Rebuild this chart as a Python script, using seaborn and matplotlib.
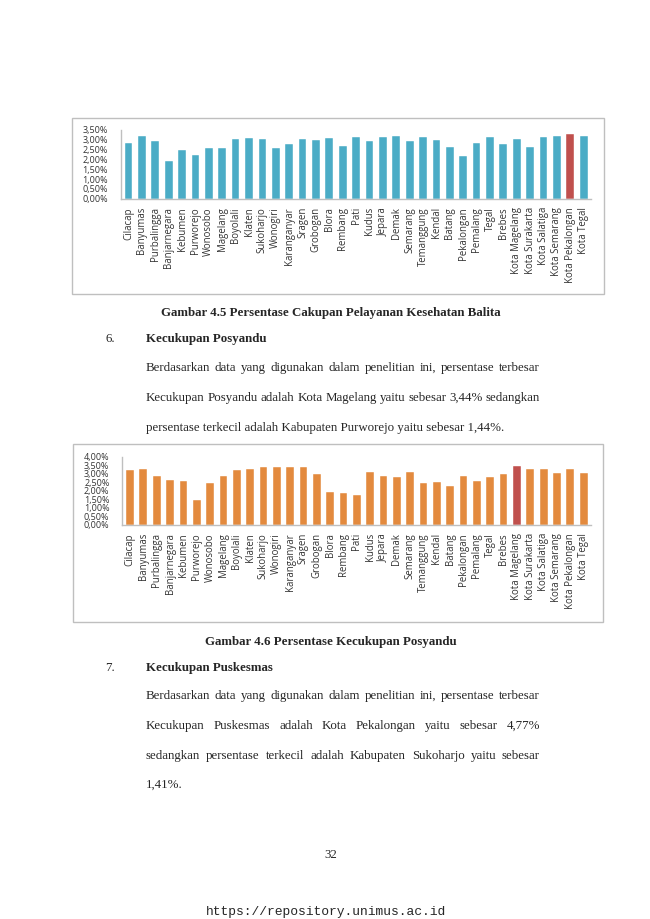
import matplotlib
matplotlib.use("Agg")
import matplotlib.pyplot as plt
import numpy as np
import pandas as pd
import seaborn as sns
from matplotlib.patches import Rectangle
from matplotlib.ticker import FuncFormatter

# kabupaten / kota in Jawa Tengah (same order in both charts)
regions = [
    "Cilacap", "Banyumas", "Purbalingga", "Banjarnegara", "Kebumen", "Purworejo",
    "Wonosobo", "Magelang", "Boyolali", "Klaten", "Sukoharjo", "Wonogiri",
    "Karanganyar", "Sragen", "Grobogan", "Blora", "Rembang", "Pati", "Kudus",
    "Jepara", "Demak", "Semarang", "Temanggung", "Kendal", "Batang", "Pekalongan",
    "Pemalang", "Tegal", "Brebes", "Kota Magelang", "Kota Surakarta",
    "Kota Salatiga", "Kota Semarang", "Kota Pekalongan", "Kota Tegal",
]

# Gambar 4.5 - Persentase Cakupan Pelayanan Kesehatan Balita (%)
balita = [
    2.85, 3.21, 2.92, 1.91, 2.46, 2.25, 2.60, 2.56, 3.04, 3.08, 3.04, 2.56,
    2.78, 3.02, 2.99, 3.09, 2.66, 3.16, 2.94, 3.13, 3.21, 2.94, 3.13, 2.99,
    2.63, 2.20, 2.82, 3.16, 2.78, 3.04, 2.63, 3.13, 3.21, 3.32, 3.21,
]

# Gambar 4.6 - Persentase Kecukupan Posyandu (%)
posyandu = [
    3.25, 3.27, 2.88, 2.65, 2.61, 1.44, 2.49, 2.88, 3.22, 3.29, 3.39, 3.43,
    3.43, 3.39, 2.98, 1.92, 1.86, 1.77, 3.12, 2.88, 2.82, 3.12, 2.49, 2.55,
    2.29, 2.88, 2.61, 2.84, 3.02, 3.44, 3.31, 3.29, 3.08, 3.31, 3.06,
]

BLUE = "#4BACC6"
ORANGE = "#E38A3E"
RED = "#C0504D"
AXIS_GREY = "#BFBFBF"

sns.set_style("white")
plt.rcParams["font.family"] = ["Open Sans", "DejaVu Sans"]

fig = plt.figure(figsize=(6.5, 9.19), dpi=100)
W, H = 650, 919


def px_axes(x0, y0, x1, y1):
    """axes from pixel box (top-left origin)"""
    return fig.add_axes([x0 / W, 1 - y1 / H, (x1 - x0) / W, (y1 - y0) / H])


def frame(x0, y0, x1, y1):
    fig.patches.append(Rectangle((x0 / W, 1 - y1 / H), (x1 - x0) / W, (y1 - y0) / H,
                                 transform=fig.transFigure, fill=False,
                                 edgecolor=AXIS_GREY, linewidth=1.0))


def bar_chart(ax, values, base, highlight, ymax):
    df = pd.DataFrame({"Wilayah": regions, "Persen": values})
    colors = [RED if r == highlight else base for r in regions]
    sns.barplot(data=df, x="Wilayah", y="Persen", hue="Wilayah", palette=colors,
                legend=False, width=0.58, ax=ax, saturation=1,
                edgecolor="white", linewidth=0.3)
    ax.set_ylim(0, ymax)
    ax.set_xlim(-0.6, len(regions) - 0.45)
    ax.set_yticks(np.arange(0, ymax + 0.01, 0.5))
    ax.yaxis.set_major_formatter(FuncFormatter(lambda v, p: f"{v:.2f}%".replace(".", ",")))
    ax.set_xlabel("")
    ax.set_ylabel("")
    ax.tick_params(axis="both", length=0, labelcolor="#333333")
    ax.tick_params(axis="y", pad=9, labelsize=6.5)
    ax.tick_params(axis="x", labelrotation=90, pad=6, labelsize=6.9)
    for s in ["top", "right"]:
        ax.spines[s].set_visible(False)
    for s in ["left", "bottom"]:
        ax.spines[s].set_color(AXIS_GREY)
        ax.spines[s].set_linewidth(1.0)
    ax.patch.set_alpha(0)


frame(72, 118.5, 603.5, 294)
ax1 = px_axes(120.5, 130, 591, 198.7)
bar_chart(ax1, balita, BLUE, "Kota Pekalongan", 3.5)

frame(72.5, 444, 603, 621.5)
ax2 = px_axes(122, 457, 591, 524.7)
bar_chart(ax2, posyandu, ORANGE, "Kota Magelang", 4.0)

# ---- document text ----
SERIF = ["Liberation Serif", "DejaVu Serif"]
FS = 9.3
LEFT, RIGHT = 146, 540


def put(x, y, s, **kw):
    kw.setdefault("fontsize", FS)
    kw.setdefault("family", SERIF)
    kw.setdefault("va", "center")
    return fig.text(x / W, 1 - y / H, s, **kw)


def justified(y, line, last=False):
    words = line.split()
    if last:
        put(LEFT, y, line)
        return
    r = fig.canvas.get_renderer()
    objs = [put(0, y, w_) for w_ in words]
    widths = [o.get_window_extent(r).width for o in objs]
    gap = (RIGHT - LEFT - sum(widths)) / (len(words) - 1)
    x = LEFT
    for o, wd in zip(objs, widths):
        o.set_x(x / W)
        x += wd + gap


put(331, 313, "Gambar 4.5 Persentase Cakupan Pelayanan Kesehatan Balita",
    ha="center", weight="bold")
put(105, 339, "6.")
put(LEFT, 339, "Kecukupan Posyandu", weight="bold")
justified(368, "Berdasarkan data yang digunakan dalam penelitian ini, persentase terbesar")
justified(398, "Kecukupan Posyandu adalah Kota Magelang yaitu sebesar 3,44% sedangkan")
justified(428, "persentase terkecil adalah Kabupaten Purworejo yaitu sebesar 1,44%.", last=True)

put(331, 642, "Gambar 4.6 Persentase Kecukupan Posyandu", ha="center", weight="bold")
put(105, 668, "7.")
put(LEFT, 668, "Kecukupan Puskesmas", weight="bold")
justified(696, "Berdasarkan data yang digunakan dalam penelitian ini, persentase terbesar")
justified(726, "Kecukupan Puskesmas adalah Kota Pekalongan yaitu sebesar 4,77%")
justified(756, "sedangkan persentase terkecil adalah Kabupaten Sukoharjo yaitu sebesar")
justified(785, "1,41%.", last=True)

put(331, 855, "32", ha="center")
put(326, 912, "https://repository.unimus.ac.id", ha="center",
    family=["Liberation Mono", "DejaVu Sans Mono"], fontsize=9.4)

fig.savefig("out.png", dpi=100)
